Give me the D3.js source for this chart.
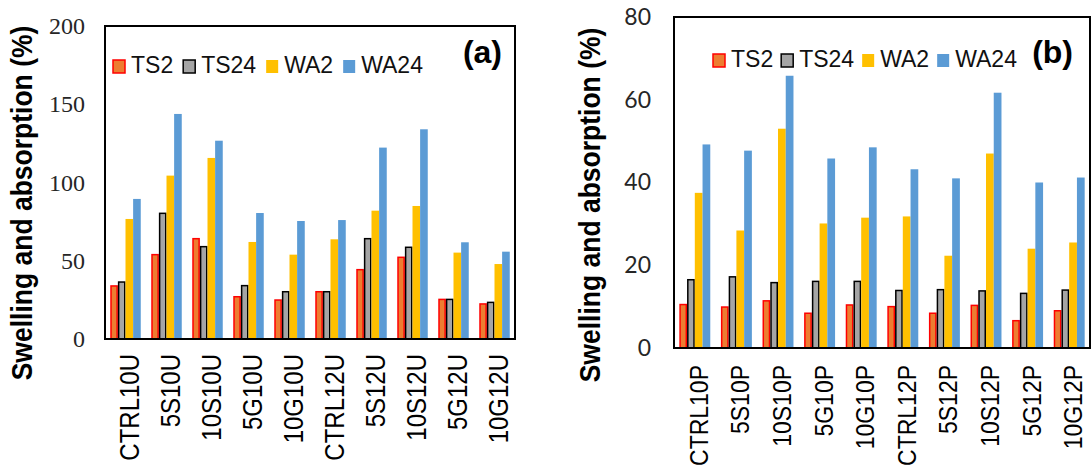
<!DOCTYPE html>
<html>
<head>
<meta charset="utf-8">
<script src="https://cdn.jsdelivr.net/npm/d3@7"></script>
<style>
  body { margin: 0; background: #fff; }
  svg { display: block; }
</style>
</head>
<body>
<script>
// data
const seriesNames = ['TS2', 'TS24', 'WA2', 'WA24']

const catsA = ['CTRL10U', '5S10U', '10S10U', '5G10U', '10G10U', 'CTRL12U', '5S12U', '10S12U', '5G12U', '10G12U']
const aTS2  = [33.9, 53.9, 64.1, 27.0, 24.9, 30.2, 44.3, 52.2, 25.3, 22.4]
const aTS24 = [36.4, 80.3, 59.0, 34.1, 30.2, 30.2, 64.1, 58.6, 25.3, 23.4]
const aWA2  = [76.7, 104.4, 115.7, 62.0, 53.9, 63.7, 82.0, 85.0, 55.2, 47.9]
const aWA24 = [89.5, 143.8, 126.7, 80.5, 75.4, 76.0, 122.3, 134.0, 61.8, 55.8]
const ticksA = [0, 50, 100, 150, 200]

const catsB = ['CTRL10P', '5S10P', '10S10P', '5G10P', '10G10P', 'CTRL12P', '5S12P', '10S12P', '5G12P', '10G12P']
const bTS2  = [10.5, 9.9, 11.4, 8.4, 10.4, 10.0, 8.4, 10.3, 6.6, 9.0]
const bTS24 = [16.5, 17.2, 15.8, 16.1, 16.1, 13.9, 14.1, 13.8, 13.2, 14.0]
const bWA2  = [37.5, 28.4, 53.0, 30.1, 31.5, 31.8, 22.3, 47.0, 24.0, 25.5]
const bWA24 = [49.2, 47.7, 65.8, 45.8, 48.5, 43.2, 41.0, 61.7, 40.0, 41.2]
const ticksB = [0, 20, 40, 60, 80]

const fills   = ['#ED7D31', '#A5A5A5', '#FFC000', '#5B9BD5']
const strokes = ['#FF0000', '#000000', 'none', 'none']

const svg = d3.select('body').append('svg')
  .attr('width', 1091)
  .attr('height', 466)

function drawPanel(o) {
  const g = svg.append('g')
  const x = d3.scaleBand().domain(o.cats).range([o.left, o.right])
    .paddingInner(0.256).paddingOuter(0.128)
  const xs = d3.scaleBand().domain(seriesNames).range([0, x.bandwidth()])
  const y = d3.scaleLinear().domain([0, o.max]).range([o.bottom, o.top])

  const rows = o.cats.map((c, i) => ({ cat: c, vals: o.series.map(s => s[i]) }))

  const grp = g.selectAll('g.grp').data(rows).enter().append('g')
    .attr('transform', d => `translate(${x(d.cat)},0)`)
  grp.selectAll('rect')
    .data(d => d.vals.map((v, k) => ({ v: v, k: k })))
    .enter().append('rect')
    .attr('x', d => xs(seriesNames[d.k]) + (d.k < 2 ? 0.75 : 0))
    .attr('width', d => xs.bandwidth() - (d.k < 2 ? 1.5 : 0))
    .attr('y', d => y(d.v))
    .attr('height', d => o.bottom - y(d.v))
    .attr('fill', d => fills[d.k])
    .attr('stroke', d => strokes[d.k])
    .attr('stroke-width', 1.5)

  // frame
  g.append('rect')
    .attr('x', o.left).attr('y', o.top)
    .attr('width', o.right - o.left).attr('height', o.bottom - o.top)
    .attr('fill', 'none').attr('stroke', '#000').attr('stroke-width', 2)

  // y axis labels
  const ya = g.append('g').attr('transform', `translate(${o.left},0)`)
    .call(d3.axisLeft(y).tickValues(o.ticks).tickSize(0).tickPadding(o.tickPad))
  ya.select('.domain').remove()
  ya.selectAll('text')
    .attr('font-family', o.tickFont).attr('font-size', o.tickSize)
    .attr('fill', '#262626')

  // x axis labels
  const xa = g.append('g').attr('transform', `translate(0,${o.bottom})`)
    .call(d3.axisBottom(x).tickSize(0))
  xa.select('.domain').remove()
  xa.selectAll('text')
    .attr('font-family', 'Liberation Sans, Arial, sans-serif')
    .attr('font-size', o.labSize)
    .attr('fill', '#000')
    .attr('text-anchor', 'end')
    .attr('x', 0).attr('y', 0).attr('dy', '0.35em')
    .attr('transform', `translate(4,${o.labGap}) rotate(-90) scale(1,1.12)`)

  // y title
  g.append('text')
    .attr('transform', `translate(${o.titleX},${o.titleY}) rotate(-90) scale(1,1.12)`)
    .attr('text-anchor', 'middle')
    .attr('font-family', 'Liberation Sans, Arial, sans-serif')
    .attr('font-weight', 'bold').attr('font-size', 26.5)
    .text('Swelling and absorption (%)')

  // legend
  let lx = o.legX
  seriesNames.forEach((s, k) => {
    g.append('rect')
      .attr('x', lx).attr('y', o.legY - 13)
      .attr('width', 12).attr('height', 13)
      .attr('fill', fills[k])
      .attr('stroke', strokes[k]).attr('stroke-width', 1.5)
    const t = g.append('text')
      .attr('x', lx + 18).attr('y', o.legY)
      .attr('font-family', 'Liberation Sans, Arial, sans-serif')
      .attr('font-size', 23).attr('fill', '#111')
      .text(s)
    lx += 18 + t.node().getComputedTextLength() + o.legGap
  })

  g.append('text')
    .attr('x', o.tagX).attr('y', 63)
    .attr('text-anchor', 'end')
    .attr('font-family', 'Liberation Sans, Arial, sans-serif')
    .attr('font-weight', 'bold').attr('font-size', 32)
    .text(o.tag)
}

drawPanel({
  cats: catsA, series: [aTS2, aTS24, aWA2, aWA24], max: 200, ticks: ticksA,
  left: 105, right: 515, top: 26, bottom: 339,
  tickFont: 'Liberation Serif, Times New Roman, serif', tickSize: 24, tickPad: 20,
  labSize: 24, labGap: 15,
  titleX: 32, titleY: 203,
  legX: 113, legY: 73, legGap: 10,
  tag: '(a)', tagX: 502
})

drawPanel({
  cats: catsB, series: [bTS2, bTS24, bWA2, bWA24], max: 80, ticks: ticksB,
  left: 674, right: 1090, top: 17, bottom: 348,
  tickFont: 'Lato, Open Sans, sans-serif', tickSize: 23, tickPad: 23,
  labSize: 23, labGap: 17,
  titleX: 600, titleY: 205,
  legX: 713, legY: 67, legGap: 8,
  tag: '(b)', tagX: 1073
})
</script>
</body>
</html>
